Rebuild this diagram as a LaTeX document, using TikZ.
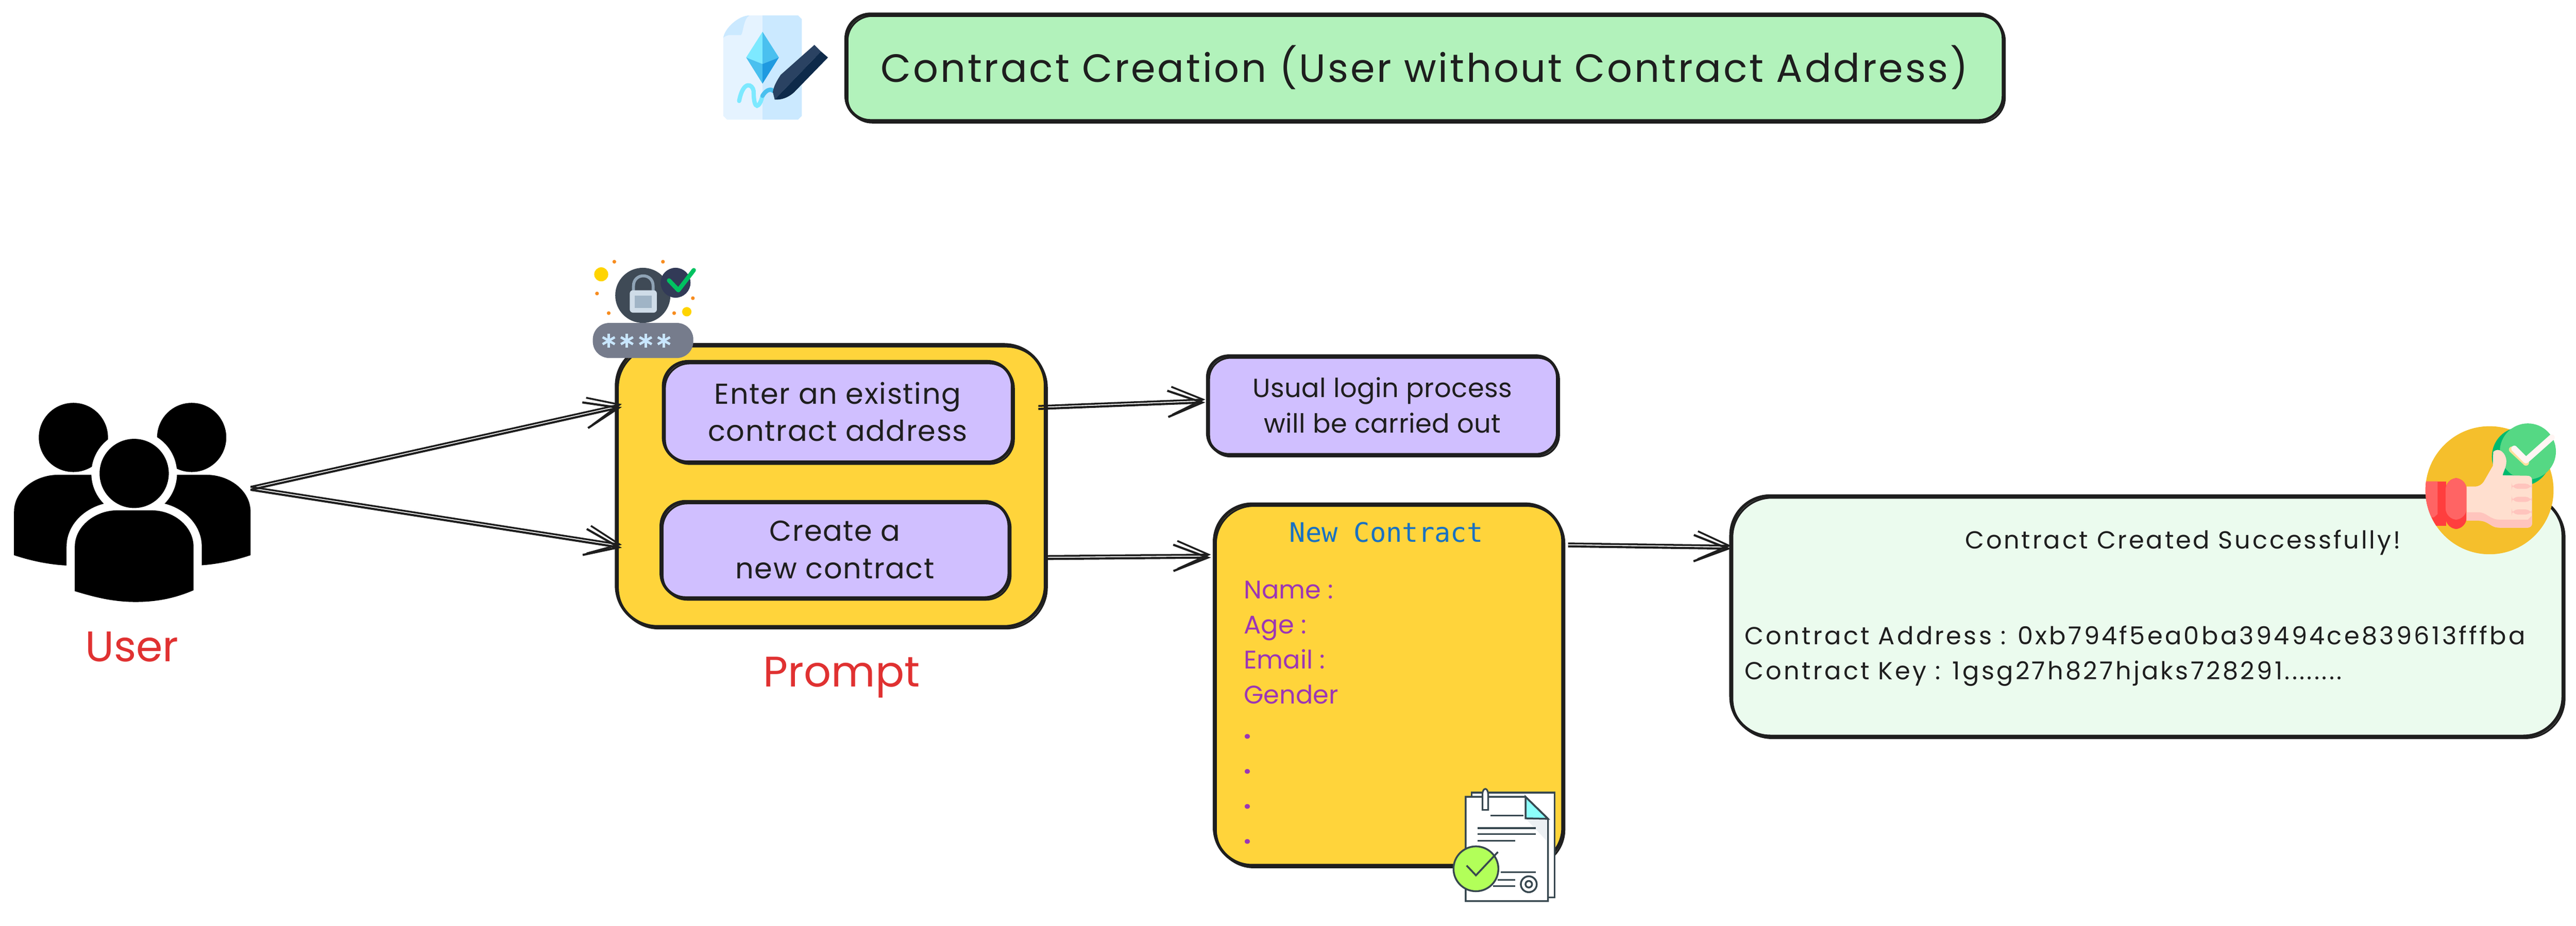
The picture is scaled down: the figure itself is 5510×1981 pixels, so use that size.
\documentclass[tikz,border=0pt]{standalone}
\usepackage{fontspec}
\setmainfont{Poppins}
\newfontfamily\codefont{DejaVu Sans Mono}
\usetikzlibrary{positioning, arrows.meta}
\definecolor{ink}{HTML}{1e1e1e}
\definecolor{mint}{HTML}{b2f2bb}
\definecolor{palemint}{HTML}{ebfbee}
\definecolor{lilac}{HTML}{d0bfff}
\definecolor{amber}{HTML}{ffd43b}
\definecolor{redlabel}{HTML}{e03131}
\definecolor{purplelabel}{HTML}{9c36b5}
\definecolor{bluelabel}{HTML}{1971c2}
\definecolor{slate}{HTML}{37474f}
\definecolor{paperlight}{HTML}{e5f3ff}
\definecolor{paperdark}{HTML}{cbe9ff}
\definecolor{gemlight}{HTML}{7de9ff}
\definecolor{gemmid}{HTML}{4ac0ef}
\definecolor{gemdeep}{HTML}{1f9ae0}
\definecolor{penlight}{HTML}{2a4262}
\definecolor{pendark}{HTML}{0e2a4a}
\definecolor{lockdisc}{HTML}{3f4a56}
\definecolor{lockbody}{HTML}{cfdce8}
\definecolor{lockinner}{HTML}{a0b4c6}
\definecolor{lockring}{HTML}{8fa3b5}
\definecolor{checkdisc}{HTML}{323a57}
\definecolor{checkgreen}{HTML}{00c261}
\definecolor{pillgray}{HTML}{767c8c}
\definecolor{starblue}{HTML}{c8e6ff}
\definecolor{sparkorange}{HTML}{f78c1f}
\definecolor{sparkyellow}{HTML}{ffd400}
\definecolor{foldcyan}{HTML}{8cfffb}
\definecolor{foldshade}{HTML}{ecf0f3}
\definecolor{badgelime}{HTML}{b2ff59}
\definecolor{thumbdisc}{HTML}{f5bf2c}
\definecolor{okgreen}{HTML}{55d884}
\definecolor{okdeep}{HTML}{00ba6e}
\definecolor{cuffred}{HTML}{ff3e3e}
\definecolor{cufflight}{HTML}{ff6464}
\definecolor{skin}{HTML}{ffdfcf}
\definecolor{skinshade}{HTML}{ffc4bd}
\definecolor{tickwhite}{HTML}{fff5f3}
\definecolor{tickshade}{HTML}{ffe09c}
\newcommand{\handsize}[3]{\fontsize{#1}{#2}\selectfont\addfontfeature{LetterSpace=#3}}
\tikzset{
  sketchbox/.style={draw=ink,line width=1.8pt,inner sep=0pt,align=center,text=ink,
    postaction={draw=ink,line width=1.1pt,transform canvas={shift={(1pt,-1.2pt)}}}},
  flow/.style={draw=ink,line width=1.3pt,-{Straight Barb[length=21pt,width=16pt]},
    postaction={draw=ink,line width=1.1pt,-{Straight Barb[length=19pt,width=17pt]},transform canvas={yshift=1.8pt}}},
  caption/.style={anchor=base,text=redlabel},
  field/.style={anchor=north west,inner sep=0pt,align=left,text=purplelabel,font=\handsize{15.5}{21.3}{0}},
  note/.style={anchor=north west,inner sep=0pt,align=left,text=ink,font=\handsize{15}{21.3}{9}}
}
\begin{document}
\begin{tikzpicture}[x=0.01cm,y=-0.01cm]
    \useasboundingbox (0,0) rectangle (5510,1981);

    %Title
    \node [sketchbox,fill=mint,rounded corners=15pt,minimum width=24.74cm,minimum height=2.28cm,font=\handsize{24}{27}{5}] (title) at (3047,144) {Contract Creation (User without Contract Address)};

    %Title icon
    \fill [paperlight] (1547,81) -- (1603,33) -- (1631,33) -- (1631,256) -- (1555,256) -- (1547,248) -- cycle;
    \fill [paperdark] (1631,33) -- (1707,33) -- (1715,41) -- (1715,248) -- (1707,256) -- (1631,256) -- cycle;
    \fill [paperdark] (1547,81) .. controls (1550,60) and (1580,33) .. (1603,33) .. controls (1590,40) and (1590,70) .. (1585,75) -- (1560,75) .. controls (1552,76) and (1548,80) .. cycle;
    \fill [gemlight] (1631,68) -- (1596,123) -- (1631,137) -- cycle;
    \fill [gemmid] (1631,68) -- (1666,123) -- (1631,137) -- cycle;
    \fill [gemmid] (1596,123) -- (1631,179) -- (1631,137) -- cycle;
    \fill [gemdeep] (1666,123) -- (1631,179) -- (1631,137) -- cycle;
    \draw [gemlight,line width=2.6pt,line cap=round] (1581,216) .. controls (1590,170) and (1610,180) .. (1612,195) .. controls (1612,240) and (1625,230) .. (1631,205);
    \draw [gemmid,line width=2.6pt,line cap=round] (1631,205) .. controls (1640,190) and (1650,190) .. (1655,195);
    \fill [penlight] (1742,96) -- (1756,110) -- (1657,213) -- (1653,197) .. controls (1655,185) and (1660,175) .. (1670,160) -- cycle;
    \fill [pendark] (1756,110) -- (1771,123) -- (1699,197) .. controls (1685,210) and (1670,214) .. (1657,213) -- cycle;

    %Users
    \begin{scope}
    \fill (157,936) circle (74);
    \fill (410,936) circle (74);
    \fill (30,1188) -- (30,1095) .. controls (30,1050) and (75,1016) .. (124,1016) -- (260,1016) -- (260,1210) -- (143,1210) .. controls (100,1208) and (60,1198) .. cycle;
    \fill (536,1188) -- (536,1095) .. controls (536,1050) and (491,1016) .. (442,1016) -- (306,1016) -- (306,1210) -- (423,1210) .. controls (466,1208) and (506,1198) .. cycle;
    \draw [white,line width=10pt] (287,1013) circle (74);
    \draw [white,line width=10pt] (160,1265) -- (160,1170) .. controls (160,1125) and (205,1092) .. (250,1092) -- (325,1092) .. controls (370,1092) and (414,1125) .. (414,1170) -- (414,1263);
    \fill (287,1013) circle (74);
    \fill (160,1265) -- (160,1170) .. controls (160,1125) and (205,1092) .. (250,1092) -- (325,1092) .. controls (370,1092) and (414,1125) .. (414,1170) -- (414,1263) .. controls (370,1282) and (330,1288) .. (290,1288) .. controls (240,1288) and (200,1277) .. cycle;
    \end{scope}
    \coordinate (users) at (536,1048);
    \node [caption,font=\handsize{26}{26}{0}] (userlabel) at (282,1416) {User};

    %Prompt
    \node [sketchbox,fill=amber,rounded corners=25pt,minimum width=9.17cm,minimum height=6.03cm] (prompt) at (1777,1039) {};
    \node [sketchbox,fill=lilac,rounded corners=15pt,minimum width=7.46cm,minimum height=2.15cm,font=\handsize{17.5}{22.8}{3}] (existing) at (1792,881) {Enter an existing\\contract address};
    \node [sketchbox,fill=lilac,rounded corners=15pt,minimum width=7.44cm,minimum height=2.06cm,font=\handsize{17.5}{22.8}{3}] (create) at (1786,1176) {Create a\\new contract};
    \node [caption,font=\handsize{26}{32}{0}] (promptlabel) at (1800,1470) {Prompt};

    %Lock icon
    \fill [sparkorange] (1314,560) circle (4) (1418,560) circle (4) (1277,628) circle (4) (1302,670) circle (4) (1442,670) circle (4) (1482,638) circle (4);
    \fill [sparkyellow] (1286,587) circle (15) (1469,667) circle (10);
    \fill [lockdisc] (1375,632) circle (59);
    \draw [lockring,line width=1.8pt] (1355,630) -- (1355,612) .. controls (1355,583) and (1397,583) .. (1397,612) -- (1397,630);
    \fill [lockbody,rounded corners=2pt] (1347,621) rectangle (1405,669);
    \fill [lockinner] (1358,632) rectangle (1394,659);
    \fill [checkdisc] (1445,605) circle (32);
    \draw [checkgreen,line width=2.6pt,line cap=round,line join=round] (1431,600) -- (1451,621) -- (1484,578);
    \fill [pillgray,rounded corners=10pt] (1268,691) rectangle (1483,766);
    \foreach \k in {1302,1341,1381,1420} {
        \foreach \a in {0,60,120} {
            \draw [starblue,line width=1.5pt,shift={(\k,729)},rotate=\a] (0,-15) -- (0,15);
        }
    }

    %Login result
    \node [sketchbox,fill=lilac,rounded corners=13pt,minimum width=7.48cm,minimum height=2.11cm,font=\handsize{16}{21.6}{1}] (login) at (2957,867) {Usual login process\\will be carried out};

    %New contract form
    \node [sketchbox,fill=amber,rounded corners=23pt,minimum width=7.45cm,minimum height=7.73cm] (form) at (2970,1465) {};
    \node [anchor=base,inner sep=0pt,text=bluelabel,font=\codefont\handsize{16.3}{20}{0}] (formtitle) at (2965,1160) {New Contract};
    \node [field] (formfields) at (2660,1242) {Name :\\Age :\\Email :\\Gender\\\textbf{.}\\\textbf{.}\\\textbf{.}\\\textbf{.}};

    %Document icon
    \draw [fill=white,draw=slate,line width=1.1pt] (3148,1696) rectangle (3325,1920);
    \draw [fill=white,draw=slate,line width=1.1pt] (3135,1705) -- (3263,1705) -- (3311,1752) -- (3311,1928) -- (3135,1928) -- cycle;
    \fill [foldshade] (3263,1751) -- (3309,1751) -- (3309,1800) -- cycle;
    \draw [fill=foldcyan,draw=slate,line width=1.1pt] (3263,1705) -- (3263,1751) -- (3311,1752) -- cycle;
    \draw [fill=white,draw=slate,line width=1pt] (3171,1700) .. controls (3171,1684) and (3183,1684) .. (3183,1700) -- (3183,1733) -- (3171,1733) -- cycle;
    \foreach \xa/\xb/\yy in {3188/3259/1745,3161/3285/1772,3161/3285/1785,3161/3241/1799,3210/3285/1866,3203/3241/1883,3194/3241/1896} {
        \draw [slate,line width=1pt] (\xa,\yy) -- (\xb,\yy);
    }
    \draw [slate,fill=white,line width=1.1pt] (3270,1892) circle (17);
    \draw [slate,line width=1.1pt] (3270,1892) circle (7);
    \draw [fill=badgelime,draw=slate,line width=1.1pt] (3157,1859) circle (48);
    \draw [slate,line width=1.1pt] (3137,1852) -- (3157,1873) -- (3204,1823);

    %Success box
    \node [sketchbox,fill=palemint,rounded corners=24pt,minimum width=17.79cm,minimum height=5.14cm] (success) at (4592,1318) {};
    \node [anchor=base,inner sep=0pt,text=ink,font=\handsize{15}{16}{8}] (successtitle) at (4669,1174) {Contract Created Successfully!};
    \node [note] (successinfo) at (3731,1338) {Contract Address : 0xb794f5ea0ba39494ce839613fffba\\Contract Key : 1gsg27h827hjaks728291........};

    %Thumb icon
    \fill [thumbdisc] (5325,1049) circle (137);
    \begin{scope}
    \clip (5325,1049) circle (137);
    \fill [cuffred] (5180,1030) rectangle (5232,1125);
    \fill [cufflight] (5180,1030) -- (5214,1030) -- (5214,1100) -- (5206,1107) -- (5180,1107) -- cycle;
    \end{scope}
    \fill [okdeep] (5393,977) circle (63);
    \fill [okgreen] (5407,966) circle (60);
    \draw [tickshade,line width=3.7pt,line cap=round,line join=round] (5373,962) -- (5403,990);
    \draw [tickwhite,line width=3.7pt,line cap=round,line join=round] (5378,960) -- (5403,985) -- (5458,936);
    \fill [cuffred,rounded corners=7pt] (5231,1023) rectangle (5276,1132);
    \fill [cufflight,rounded corners=7pt] (5231,1023) rectangle (5276,1112);
    \fill [skin] (5276,1041) -- (5293,1041) .. controls (5303,1041) and (5308,1037) .. (5313,1030) -- (5332,997) -- (5333,967) .. controls (5345,955) and (5361,970) .. (5361,987) .. controls (5361,1000) and (5355,1008) .. (5353,1017) -- (5407,1018) .. controls (5413,1018) and (5416,1023) .. (5416,1027) -- (5416,1120) .. controls (5416,1125) and (5412,1129) .. (5407,1129) -- (5347,1129) .. controls (5325,1129) and (5325,1114) .. (5300,1114) -- (5276,1114) -- cycle;
    \fill [skinshade] (5276,1096) -- (5300,1096) .. controls (5320,1096) and (5325,1112) .. (5347,1112) -- (5407,1112) -- (5416,1103) -- (5416,1120) .. controls (5416,1125) and (5412,1129) .. (5407,1129) -- (5347,1129) .. controls (5325,1129) and (5325,1114) .. (5300,1114) -- (5276,1114) -- cycle;
    \foreach \yy in {1035,1063,1090} {
        \fill [skinshade,rounded corners=4pt] (5372,\yy) rectangle (5416,\yy+11);
    }

    %Arrows
    \coordinate (promptin1) at (1330,871);
    \coordinate (promptin2) at (1330,1172);
    \coordinate (promptout1) at (2221,875);
    \coordinate (promptout2) at (2235,1196);
    \coordinate (loginin) at (2578,861);
    \coordinate (formin) at (2590,1193);
    \coordinate (formout) at (3354,1169);
    \coordinate (successin) at (3703,1174);
    \draw [flow] (users) -- (promptin1);
    \draw [flow] (users) -- (promptin2);
    \draw [flow] (promptout1) -- (loginin);
    \draw [flow] (promptout2) -- (formin);
    \draw [flow] (formout) -- (successin);
\end{tikzpicture}
\end{document}
